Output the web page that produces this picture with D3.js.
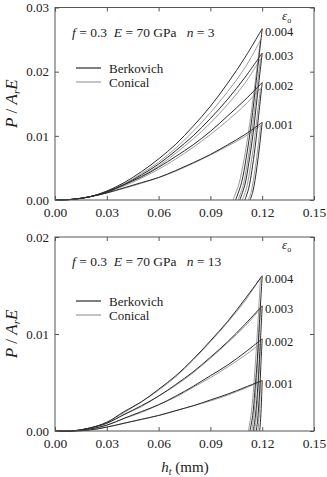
<!DOCTYPE html>
<html>
<head>
<meta charset="utf-8">
<script src="https://cdn.jsdelivr.net/npm/d3@7"></script>
<style>
  body { margin: 0; background: #fff; }
  svg text { font-family: "Liberation Serif", "DejaVu Serif", "Times New Roman", Times, serif !important; white-space: pre; }
</style>
</head>
<body>
<script>
// loading depths (mm)
const hLoad = [0, 0.01, 0.02, 0.03, 0.04, 0.05, 0.06, 0.07, 0.08, 0.09, 0.10, 0.11, 0.12];
const hLoadCon = [0, 0.01, 0.02, 0.03, 0.04, 0.05, 0.06, 0.07, 0.08, 0.09, 0.10, 0.11, 0.119];
const strainLabels = ["0.001", "0.002", "0.003", "0.004"];
const unloadFrac = [1, 0.7, 0.45, 0.25, 0.1, 0];

// n = 3, loading P/ArE (strain 0.001 .. 0.004)
const n3BerkLoad = [
  [0, 0.0001, 0.0005, 0.0011, 0.0019, 0.0027, 0.0035, 0.0046, 0.0058, 0.0071, 0.0086, 0.0102, 0.0121],
  [0, 0.0001, 0.0005, 0.0012, 0.0024, 0.0036, 0.0051, 0.0068, 0.0086, 0.0107, 0.0131, 0.0156, 0.0183],
  [0, 0.0001, 0.0005, 0.0013, 0.0024, 0.0039, 0.0056, 0.0077, 0.0100, 0.0127, 0.0157, 0.0191, 0.0229],
  [0, 0.0001, 0.0005, 0.0014, 0.0027, 0.0044, 0.0064, 0.0087, 0.0115, 0.0146, 0.0182, 0.0222, 0.0267]
];
const n3ConLoad = [
  [0, 0.0001, 0.0005, 0.0011, 0.0018, 0.0026, 0.0035, 0.0045, 0.0057, 0.0070, 0.0084, 0.0099, 0.0116],
  [0, 0.0001, 0.0005, 0.0012, 0.0022, 0.0034, 0.0048, 0.0064, 0.0082, 0.0102, 0.0124, 0.0148, 0.0174],
  [0, 0.0001, 0.0005, 0.0012, 0.0023, 0.0037, 0.0053, 0.0073, 0.0095, 0.0120, 0.0149, 0.0182, 0.0220],
  [0, 0.0001, 0.0005, 0.0013, 0.0025, 0.0041, 0.0059, 0.0081, 0.0107, 0.0136, 0.0169, 0.0206, 0.0249]
];
// n = 3, unloading depths
const n3BerkUnloadH = [
  [0.1200, 0.1185, 0.1171, 0.1158, 0.1145, 0.1130],
  [0.1200, 0.1178, 0.1159, 0.1140, 0.1122, 0.1100],
  [0.1200, 0.1171, 0.1147, 0.1122, 0.1099, 0.1070],
  [0.1200, 0.1166, 0.1137, 0.1108, 0.1080, 0.1046]
];
const n3ConUnloadH = [
  [0.1190, 0.1175, 0.1161, 0.1148, 0.1135, 0.1120],
  [0.1190, 0.1167, 0.1147, 0.1127, 0.1108, 0.1085],
  [0.1190, 0.1161, 0.1137, 0.1112, 0.1089, 0.1060],
  [0.1190, 0.1155, 0.1124, 0.1094, 0.1065, 0.1030]
];

// n = 13, loading
const n13BerkLoad = [
  [0, 0, 0.0001, 0.0004, 0.0008, 0.0012, 0.0016, 0.0021, 0.0026, 0.0032, 0.0038, 0.0045, 0.0052],
  [0, 0, 0.0002, 0.0006, 0.0013, 0.0020, 0.0027, 0.0036, 0.0046, 0.0057, 0.0068, 0.0081, 0.0095],
  [0, 0, 0.0003, 0.0008, 0.0017, 0.0026, 0.0036, 0.0048, 0.0061, 0.0076, 0.0092, 0.0110, 0.0129],
  [0, 0, 0.0003, 0.0009, 0.0020, 0.0030, 0.0043, 0.0057, 0.0074, 0.0093, 0.0113, 0.0136, 0.0160]
];
const n13ConLoad = [
  [0, 0, 0.0001, 0.0004, 0.0008, 0.0012, 0.0016, 0.0021, 0.0026, 0.0031, 0.0037, 0.0044, 0.0051],
  [0, 0, 0.0002, 0.0006, 0.0013, 0.0019, 0.0027, 0.0035, 0.0045, 0.0055, 0.0066, 0.0078, 0.0090],
  [0, 0, 0.0003, 0.0008, 0.0017, 0.0025, 0.0036, 0.0047, 0.0060, 0.0075, 0.0091, 0.0108, 0.0126],
  [0, 0, 0.0003, 0.0009, 0.0019, 0.0030, 0.0042, 0.0056, 0.0073, 0.0092, 0.0112, 0.0134, 0.0158]
];
const n13BerkUnloadH = [
  [0.1200, 0.1197, 0.1194, 0.1191, 0.1188, 0.1185],
  [0.1200, 0.1192, 0.1186, 0.1179, 0.1173, 0.1165],
  [0.1200, 0.1189, 0.1179, 0.1169, 0.1159, 0.1148],
  [0.1200, 0.1184, 0.1171, 0.1157, 0.1145, 0.1129]
];
const n13ConUnloadH = [
  [0.1190, 0.1187, 0.1184, 0.1181, 0.1178, 0.1175],
  [0.1190, 0.1182, 0.1176, 0.1169, 0.1163, 0.1155],
  [0.1190, 0.1179, 0.1169, 0.1159, 0.1150, 0.1139],
  [0.1190, 0.1175, 0.1161, 0.1148, 0.1135, 0.1120]
];

const xTicks = [0, 0.03, 0.06, 0.09, 0.12, 0.15];
const yTicksTop = [0, 0.01, 0.02, 0.03];
const yTicksBottom = [0, 0.01, 0.02];

const width = 327, height = 477;
const berkColor = "#2b2b2b", conColor = "#9c9c9c", axisColor = "#555";
const serif = "Liberation Serif";

const svg = d3.select("body").append("svg")
  .attr("width", width)
  .attr("height", height)
  .attr("font-family", serif);

const drawPanel = (p) => {
  const x = d3.scaleLinear().domain([0, 0.15]).range([55, 314]);
  const y = d3.scaleLinear().domain([0, p.yMax]).range([p.bottom, p.top]);
  const g = svg.append("g");

  const line = d3.line()
    .x((d) => x(d[0]))
    .y((d) => y(d[1]))
    .curve(d3.curveCatmullRom.alpha(0.5));

  const series = [
    {color: conColor, h: hLoadCon, load: p.conLoad, unload: p.conUnload},
    {color: berkColor, h: hLoad, load: p.berkLoad, unload: p.berkUnload}
  ];

  series.forEach((s) => {
    s.load.forEach((vals, i) => {
      const pts = vals.map((v, j) => [s.h[j], v]);
      const peak = vals[vals.length - 1];
      const un = s.unload[i].map((h, j) => [h, peak * unloadFrac[j]]);
      g.append("path").attr("d", line(pts))
        .attr("fill", "none").attr("stroke", s.color).attr("stroke-width", 1);
      g.append("path").attr("d", line(un))
        .attr("fill", "none").attr("stroke", s.color).attr("stroke-width", 1);
    });
  });

  // axes
  const fmt = d3.format(".2f");
  const ax = g.append("g").attr("transform", `translate(0,${p.bottom})`)
    .call(d3.axisBottom(x).tickValues(xTicks).tickFormat(fmt).tickSizeInner(-4).tickSizeOuter(0).tickPadding(7));
  const ay = g.append("g").attr("transform", "translate(55,0)")
    .call(d3.axisLeft(y).tickValues(p.yTicks).tickFormat(fmt).tickSizeInner(-4).tickSizeOuter(0).tickPadding(6));
  const at = g.append("g").attr("transform", `translate(0,${p.top})`)
    .call(d3.axisTop(x).tickValues(xTicks).tickFormat("").tickSizeInner(-4).tickSizeOuter(0));
  const ar = g.append("g").attr("transform", "translate(314,0)")
    .call(d3.axisRight(y).tickValues(p.yTicks).tickFormat("").tickSizeInner(-4).tickSizeOuter(0));
  [ax, ay, at, ar].forEach((a) => {
    a.attr("font-family", serif);
    a.selectAll("path").remove();
    a.selectAll("line").attr("stroke", axisColor);
    a.selectAll("text").attr("font-size", 13).attr("fill", "#222");
  });
  ax.selectAll("text").attr("font-size", 13.5);
  g.append("rect")
    .attr("x", 55).attr("y", p.top)
    .attr("width", 259).attr("height", p.bottom - p.top)
    .attr("fill", "none").attr("stroke", axisColor).attr("stroke-width", 1);

  // strain labels
  p.berkLoad.forEach((vals, i) => {
    g.append("text")
      .attr("x", 265).attr("y", y(vals[vals.length - 1]) + 7)
      .attr("font-size", 12.5).attr("fill", "#222")
      .text(strainLabels[i]);
  });
  const eps = g.append("text").attr("x", 282).attr("y", p.top + 12)
    .attr("font-size", 13).attr("fill", "#222");
  eps.append("tspan").attr("font-style", "italic").text("ε");
  eps.append("tspan").attr("font-size", 8).attr("dy", 3).text("o");

  // parameters
  const t = g.append("text").attr("x", 72).attr("y", p.top + 29)
    .attr("font-size", 13.5).attr("fill", "#222");
  t.append("tspan").attr("font-style", "italic").text("f");
  t.append("tspan").text(" = 0.3  ");
  t.append("tspan").attr("font-style", "italic").text("E");
  t.append("tspan").text(" = 70 GPa   ");
  t.append("tspan").attr("font-style", "italic").text("n");
  t.append("tspan").text(" = " + p.n);

  // legend
  [["Berkovich", berkColor], ["Conical", conColor]].forEach((d, i) => {
    const ly = p.legendY + i * 14;
    g.append("line").attr("x1", 76).attr("x2", 101).attr("y1", ly).attr("y2", ly)
      .attr("stroke", d[1]).attr("stroke-width", 1.2);
    g.append("text").attr("x", 109).attr("y", ly + 4.5)
      .attr("font-size", 13).attr("fill", "#222").text(d[0]);
  });

  // y label
  const yl = g.append("text")
    .attr("transform", `translate(17,${(p.top + p.bottom) / 2}) rotate(-90)`)
    .attr("text-anchor", "middle").attr("font-size", 17).attr("fill", "#222");
  yl.append("tspan").attr("font-style", "italic").text("P");
  yl.append("tspan").text(" / ");
  yl.append("tspan").attr("font-style", "italic").text("A");
  yl.append("tspan").attr("font-style", "italic").attr("font-size", 11).attr("dy", 3).text("r");
  yl.append("tspan").attr("font-style", "italic").attr("dy", -3).text("E");
};

drawPanel({top: 7.5, bottom: 200, yMax: 0.03, yTicks: yTicksTop, n: 3, legendY: 68,
  berkLoad: n3BerkLoad, conLoad: n3ConLoad, berkUnload: n3BerkUnloadH, conUnload: n3ConUnloadH});
drawPanel({top: 237, bottom: 431, yMax: 0.02, yTicks: yTicksBottom, n: 13, legendY: 301,
  berkLoad: n13BerkLoad, conLoad: n13ConLoad, berkUnload: n13BerkUnloadH, conUnload: n13ConUnloadH});

// x label
const xl = svg.append("text").attr("x", 185).attr("y", 472)
  .attr("text-anchor", "middle").attr("font-size", 15).attr("fill", "#222");
xl.append("tspan").attr("font-style", "italic").text("h");
xl.append("tspan").attr("font-style", "italic").attr("font-size", 10).attr("dy", 3).text("t");
xl.append("tspan").attr("dy", -3).text(" (mm)");
</script>
</body>
</html>
